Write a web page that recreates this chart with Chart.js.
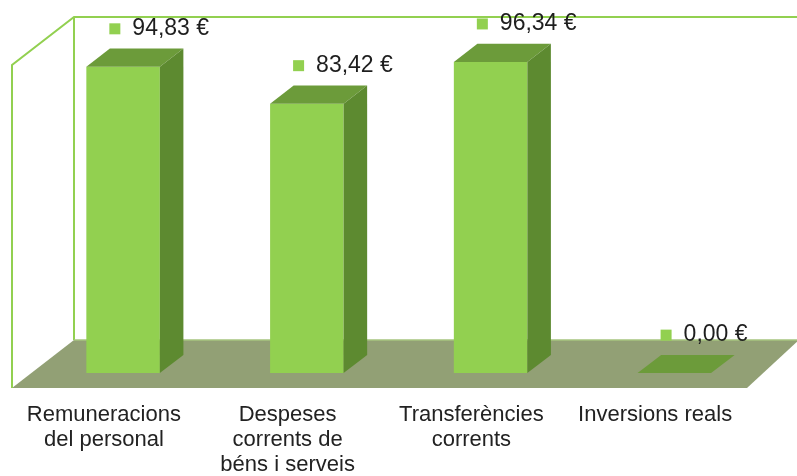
<!DOCTYPE html>
<html>
<head>
<meta charset="utf-8">
<script src="https://cdn.jsdelivr.net/npm/chart.js@4/dist/chart.umd.min.js"></script>
<style>
  html, body { margin: 0; padding: 0; background: #ffffff; }
  #wrap { width: 797px; height: 476px; }
</style>
</head>
<body>
<div id="wrap"><canvas id="c" width="797" height="476"></canvas></div>
<script>
// ---- data ----
const categories = [
  ['Remuneracions', 'del personal'],
  ['Despeses', 'corrents de', 'béns i serveis'],
  ['Transferències', 'corrents'],
  ['Inversions reals']
];
const values = [94.83, 83.42, 96.34, 0.00];
const yMin = 0;
const yMax = 100;

function fmtEuro(v) {
  return v.toFixed(2).replace('.', ',') + ' €';
}

// ---- 3D look (styles) ----
const DEPTH_DX = 62, DEPTH_DY = -48;      // full floor depth
const BACK_RIGHT_DX = 52;                  // slight perspective on right side
const BAR_FRONT = 0.31;                    // bar front plane depth fraction
const BAR_DEPTH = 0.38;                    // bar depth fraction
const FRONT_COL = '#92D050', TOP_COL = '#6C9B3A', SIDE_COL = '#5D8A30';
const FLOOR_COL = '#92A075', WALL_COL = '#92D050';

const plot3d = {
  id: 'plot3d',
  beforeDatasetsDraw(chart) {
    const ctx = chart.ctx;
    const { left, right, top, bottom } = chart.chartArea;
    ctx.save();
    // floor
    ctx.fillStyle = FLOOR_COL;
    ctx.beginPath();
    ctx.moveTo(left, bottom);
    ctx.lineTo(right, bottom);
    ctx.lineTo(right + BACK_RIGHT_DX, bottom + DEPTH_DY);
    ctx.lineTo(left + DEPTH_DX, bottom + DEPTH_DY);
    ctx.closePath();
    ctx.fill();
    // walls outline
    ctx.strokeStyle = WALL_COL;
    ctx.lineWidth = 2;
    ctx.beginPath();
    ctx.moveTo(left, bottom);
    ctx.lineTo(left, top);
    ctx.lineTo(left + DEPTH_DX, top + DEPTH_DY);
    ctx.lineTo(right + BACK_RIGHT_DX + 20, top + DEPTH_DY);
    ctx.moveTo(left + DEPTH_DX, top + DEPTH_DY);
    ctx.lineTo(left + DEPTH_DX, bottom + DEPTH_DY);
    ctx.stroke();
    ctx.lineWidth = 1.5;
    ctx.strokeStyle = '#A6C57F';
    ctx.beginPath();
    ctx.moveTo(left + DEPTH_DX, bottom + DEPTH_DY);
    ctx.lineTo(right + BACK_RIGHT_DX, bottom + DEPTH_DY);
    ctx.stroke();
    ctx.restore();
    // shift bar fronts into depth
    ctx.save();
    ctx.translate(DEPTH_DX * BAR_FRONT, DEPTH_DY * BAR_FRONT);
  },
  afterDatasetsDraw(chart) {
    const ctx = chart.ctx;
    ctx.restore();
    const sx = DEPTH_DX * BAR_FRONT, sy = DEPTH_DY * BAR_FRONT;
    const bx = DEPTH_DX * BAR_DEPTH, by = DEPTH_DY * BAR_DEPTH;
    const meta = chart.getDatasetMeta(0);
    const ds = chart.data.datasets[0];
    ctx.save();
    meta.data.forEach((el, i) => {
      const p = el.getProps(['x', 'y', 'base', 'width'], true);
      const x0 = p.x - p.width / 2 + sx, x1 = p.x + p.width / 2 + sx;
      const yT = p.y + sy, yB = p.base + sy;
      // top face
      ctx.fillStyle = TOP_COL;
      ctx.beginPath();
      ctx.moveTo(x0, yT);
      ctx.lineTo(x1, yT);
      ctx.lineTo(x1 + bx, yT + by);
      ctx.lineTo(x0 + bx, yT + by);
      ctx.closePath();
      ctx.fill();
      // side face
      if (yB - yT > 0.5) {
        ctx.fillStyle = SIDE_COL;
        ctx.beginPath();
        ctx.moveTo(x1, yT);
        ctx.lineTo(x1 + bx, yT + by);
        ctx.lineTo(x1 + bx, yB + by);
        ctx.lineTo(x1, yB);
        ctx.closePath();
        ctx.fill();
      }
      // data label with marker square
      const ly = yT - 38;
      const lx = x0 + 23;
      ctx.fillStyle = FRONT_COL;
      ctx.fillRect(lx, ly - 5.5, 11, 11);
      ctx.fillStyle = '#1E1E1E';
      ctx.font = '23px "Liberation Sans", Arial, sans-serif';
      ctx.textAlign = 'left';
      ctx.textBaseline = 'middle';
      ctx.fillText(fmtEuro(ds.data[i]), lx + 23, ly);
    });
    ctx.restore();
  }
};

new Chart(document.getElementById('c'), {
  type: 'bar',
  data: {
    labels: categories,
    datasets: [{
      data: values,
      backgroundColor: FRONT_COL,
      borderWidth: 0,
      categoryPercentage: 1.0,
      barPercentage: 0.4,
      clip: false
    }]
  },
  options: {
    responsive: false,
    animation: false,
    layout: { padding: { left: 12, right: 50, top: 65, bottom: 0 } },
    plugins: { legend: { display: false }, tooltip: { enabled: false } },
    scales: {
      x: {
        grid: { display: false, drawTicks: false },
        border: { display: false },
        ticks: {
          autoSkip: false,
          maxRotation: 0,
          minRotation: 0,
          padding: 14,
          color: '#222222',
          font: { family: '"Liberation Sans", Arial, sans-serif', size: 22, lineHeight: '25px' }
        },
        afterFit(scale) { scale.height = 88; }
      },
      y: {
        display: false,
        min: yMin,
        max: yMax
      }
    }
  },
  plugins: [plot3d]
});
</script>
</body>
</html>
